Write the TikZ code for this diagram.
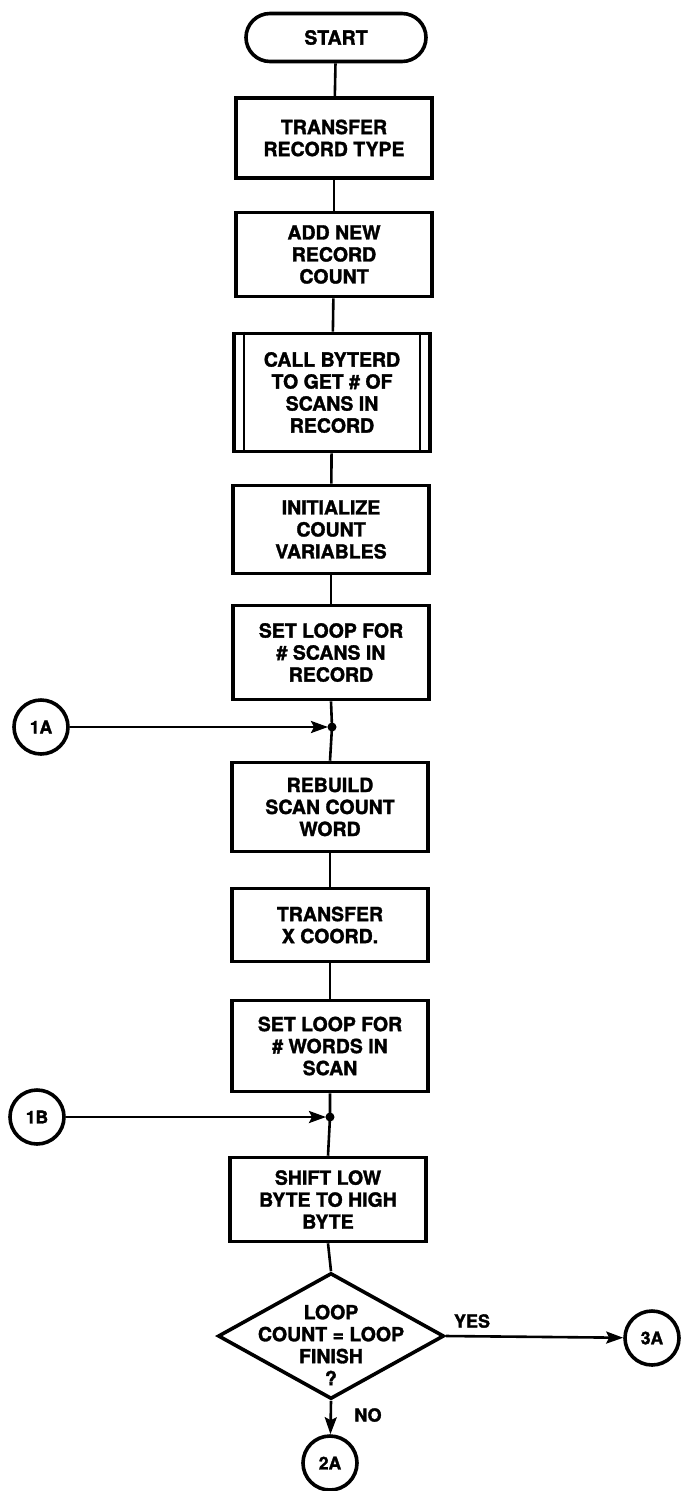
\documentclass[tikz,border=0pt]{standalone}
\usepackage{fontspec}
\newfontfamily\heavy[FakeBold=1.6,BoldFeatures={FakeBold=1.6}]{TeX Gyre Heros}
\usetikzlibrary{shapes.geometric,shapes.misc,arrows.meta}
\begin{document}
\begin{tikzpicture}[x=1pt,y=-1pt,
  txt/.style={font=\fontsize{19.5}{22}\selectfont\heavy\bfseries, align=center},
  procbox/.style={txt, draw, line width=3.6pt, minimum width=196pt, inner sep=0pt},
  term/.style={txt, draw, line width=3.6pt, rounded rectangle, minimum width=180pt, minimum height=48pt, inner sep=0pt},
  conn/.style={line width=2.6pt},
  arr/.style={conn, -{Stealth[length=17pt,width=12pt,inset=3pt]}},
  conncirc/.style={draw, circle, line width=3.6pt, minimum size=54pt, inner sep=0pt, font=\fontsize{17.5}{20}\selectfont\heavy\bfseries},
  lbl/.style={font=\fontsize{18}{20}\selectfont\heavy\bfseries}
]
\useasboundingbox (0,0) rectangle (682,1491);

\node[term] (start) at (336,37.5) {START};
\node[procbox, minimum height=80pt] (ttype) at (334,138) {TRANSFER\\RECORD TYPE};
\node[procbox, minimum height=84pt] (addnew) at (334,254.5) {ADD NEW\\RECORD\\COUNT};
\node[procbox, minimum height=118pt] (call) at (332,392.5) {CALL BYTERD\\TO GET \# OF\\SCANS IN\\RECORD};
\draw[line width=2.4pt] ([xshift=12pt]call.north west) -- ([xshift=12pt]call.south west);
\draw[line width=2.4pt] ([xshift=-12pt]call.north east) -- ([xshift=-12pt]call.south east);
\node[procbox, minimum height=88pt] (init) at (331,529.5) {INITIALIZE\\COUNT\\VARIABLES};
\node[procbox, minimum height=94pt] (loop1) at (331,652.5) {SET LOOP FOR\\\# SCANS IN\\RECORD};
\coordinate (j1) at (332,727);
\node[procbox, minimum height=89pt] (rebuild) at (330,807) {REBUILD\\SCAN COUNT\\WORD};
\node[procbox, minimum height=73pt] (xcoord) at (330,925) {TRANSFER\\X COORD.};
\node[procbox, minimum height=91pt] (loop2) at (330,1046) {SET LOOP FOR\\\# WORDS IN\\SCAN};
\coordinate (j2) at (330,1117);
\node[procbox, minimum height=84pt] (shift) at (328,1199.5) {SHIFT LOW\\BYTE TO HIGH\\BYTE};
\node[draw, diamond, line width=3.6pt, minimum width=226pt, minimum height=126pt, inner sep=0pt] (dec) at (331,1336) {};
\node[txt] (dectxt) at (331,1345) {LOOP\\COUNT = LOOP\\FINISH\\?};

\node[conncirc] (c1a) at (41,727) {1A};
\node[conncirc] (c1b) at (37,1117) {1B};
\node[conncirc] (c3a) at (652,1338) {3A};
\node[conncirc] (c2a) at (330,1463) {2A};

\draw[conn] (start) -- (ttype);
\draw[conn] (ttype) -- (addnew);
\draw[conn] (addnew) -- (call);
\draw[conn] (call) -- (init);
\draw[conn] (init) -- (loop1);
\draw[conn] (loop1.south) -- (j1) -- (rebuild.north);
\draw[conn] (rebuild) -- (xcoord);
\draw[conn] (xcoord) -- (loop2);
\draw[conn] (loop2.south) -- (j2) -- (shift.north);
\draw[conn] (shift.south) -- (dec.north);
\draw[arr, shorten >=4pt] (c1a) -- (j1);
\fill (j1) circle (4.5pt);
\draw[arr, shorten >=4pt] (c1b) -- (j2);
\fill (j2) circle (4.5pt);
\draw[arr] (dec.east) -- (c3a);
\draw[arr] (dec.south) -- (c2a);

\node[lbl] (yes) at (472,1321) {YES};
\node[lbl] (no) at (368,1415) {NO};
\end{tikzpicture}
\end{document}
